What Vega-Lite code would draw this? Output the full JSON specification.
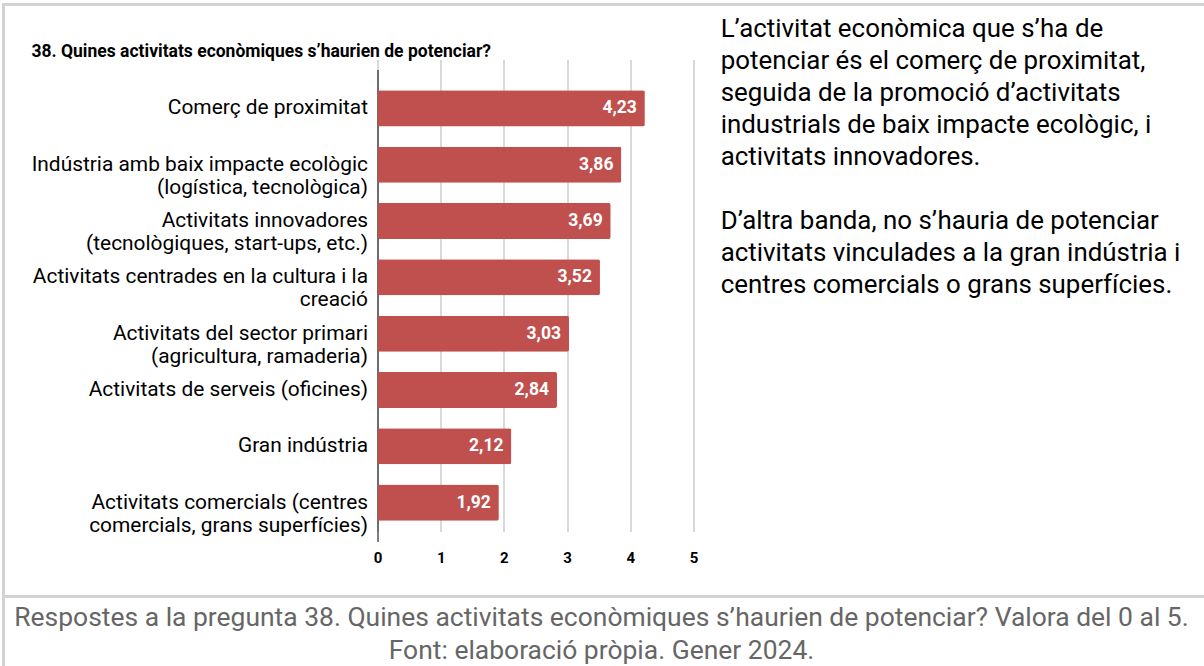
{
  "$schema": "https://vega.github.io/schema/vega-lite/v6.json",
  "padding": {"left": 1.5, "top": 2.5, "right": 0, "bottom": 0},
  "background": "#ffffff",
  "config": {
    "font": "Roboto",
    "locale": {"number": {"decimal": ",", "thousands": ".", "grouping": [3], "currency": ["", " €"]}},
    "view": {"stroke": "#d3d3d3", "strokeWidth": 3}
  },
  "datasets": {
    "scores": [
      {"activitat": "Comerç de proximitat", "valor": 4.23},
      {"activitat": "Indústria amb baix impacte ecològic\n(logística, tecnològica)", "valor": 3.86},
      {"activitat": "Activitats innovadores\n(tecnològiques, start-ups, etc.)", "valor": 3.69},
      {"activitat": "Activitats centrades en la cultura i la\ncreació", "valor": 3.52},
      {"activitat": "Activitats del sector primari\n(agricultura, ramaderia)", "valor": 3.03},
      {"activitat": "Activitats de serveis (oficines)", "valor": 2.84},
      {"activitat": "Gran indústria", "valor": 2.12},
      {"activitat": "Activitats comercials (centres\ncomercials, grans superfícies)", "valor": 1.92}
    ],
    "paragraf": [
      {"linia": 0, "text": "L’activitat econòmica que s’ha de"},
      {"linia": 1, "text": "potenciar és el comerç de proximitat,"},
      {"linia": 2, "text": "seguida de la promoció d’activitats"},
      {"linia": 3, "text": "industrials de baix impacte ecològic, i"},
      {"linia": 4, "text": "activitats innovadores."},
      {"linia": 6, "text": "D’altra banda, no s’hauria de potenciar"},
      {"linia": 7, "text": "activitats vinculades a la gran indústria i"},
      {"linia": 8, "text": "centres comercials o grans superfícies."}
    ],
    "peu": [
      {"linia": 0, "text": "Respostes a la pregunta 38. Quines activitats econòmiques s’haurien de potenciar? Valora del 0 al 5."},
      {"linia": 1, "text": "Font: elaboració pròpia. Gener 2024."}
    ]
  },
  "spacing": 0,
  "bounds": "flush",
  "vconcat": [
    {
      "width": 1300,
      "height": 592,
      "title": {
        "text": "38. Quines activitats econòmiques s’haurien de potenciar?",
        "anchor": "start",
        "frame": "group",
        "orient": "top",
        "offset": -56,
        "dx": 28,
        "fontSize": 17.5,
        "fontWeight": "bold",
        "color": "#000000",
        "font": "Roboto"
      },
      "layer": [
        {
          "data": {"name": "scores"},
          "encoding": {
            "y": {
              "field": "activitat",
              "type": "nominal",
              "sort": null,
              "scale": {"range": [65, 537], "paddingInner": 0.36, "paddingOuter": 0.37},
              "axis": {
                "title": null,
                "orient": "left",
                "offset": -374,
                "domain": true,
                "domainColor": "#000000",
                "domainWidth": 1,
                "ticks": false,
                "grid": false,
                "labelFontSize": 20.9,
                "labelColor": "#000000",
                "labelPadding": 10,
                "labelLimit": 0,
                "labelLineHeight": 23,
                "labelExpr": "split(datum.label, '\\n')"
              }
            },
            "x": {
              "field": "valor",
              "type": "quantitative",
              "scale": {"domain": [0, 5], "range": [374, 690], "nice": false},
              "axis": {
                "title": null,
                "offset": -55,
                "values": [0, 1, 2, 3, 4, 5],
                "format": "d",
                "domain": false,
                "ticks": false,
                "grid": true,
                "gridColor": "#cccccc",
                "gridWidth": 1.5,
                "labelFlush": false,
                "labelFontSize": 15,
                "labelFontWeight": "bold",
                "labelColor": "#000000",
                "labelPadding": 9
              }
            }
          },
          "layer": [
            {"mark": {"type": "bar", "color": "#c0504d", "cornerRadius": 2}},
            {
              "mark": {"type": "text", "align": "right", "baseline": "middle", "dx": -8, "color": "#ffffff", "fontWeight": "bold", "fontSize": 17.5},
              "encoding": {"text": {"field": "valor", "type": "quantitative", "format": ".2f"}}
            }
          ]
        },
        {
          "data": {"name": "paragraf"},
          "mark": {"type": "text", "align": "left", "baseline": "alphabetic", "fontSize": 25.9, "color": "#000000"},
          "encoding": {
            "x": {"datum": 5.43, "type": "quantitative"},
            "y": {"field": "linia", "type": "quantitative", "scale": {"domain": [0, 8], "range": [32, 288]}, "axis": null},
            "text": {"field": "text", "type": "nominal"}
          }
        }
      ],
      "resolve": {"scale": {"y": "independent"}, "axis": {"y": "independent"}}
    },
    {
      "width": 1300,
      "height": 100,
      "data": {"name": "peu"},
      "mark": {"type": "text", "align": "center", "baseline": "alphabetic", "fontSize": 26.45, "color": "#666666"},
      "encoding": {
        "x": {"datum": 0.5, "type": "quantitative", "scale": {"domain": [0, 1], "range": [0, 1196]}, "axis": null},
        "y": {"field": "linia", "type": "quantitative", "scale": {"domain": [0, 1], "range": [29, 62]}, "axis": null},
        "text": {"field": "text", "type": "nominal"}
      }
    }
  ]
}
